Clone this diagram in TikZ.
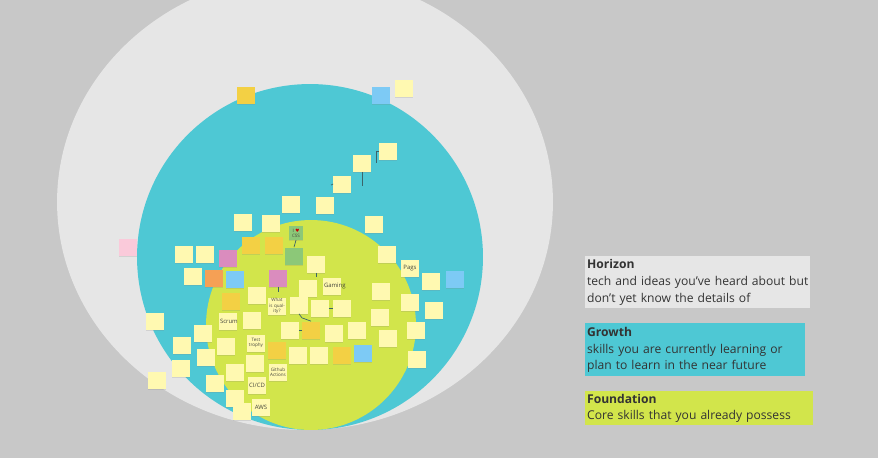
\documentclass[tikz,border=0pt]{standalone}
\usepackage{fontspec}
\setmainfont{Open Sans}
\newfontfamily\symfont{DejaVu Sans}
\usetikzlibrary{shadows}

\definecolor{bggray}{RGB}{200,200,200}
\definecolor{horizon}{RGB}{230,230,230}
\definecolor{growth}{RGB}{78,200,212}
\definecolor{foundation}{RGB}{210,229,75}
\definecolor{noteyellow}{RGB}{255,249,177}
\definecolor{notedark}{RGB}{243,208,68}
\definecolor{noteorange}{RGB}{245,160,85}
\definecolor{notemauve}{RGB}{218,140,190}
\definecolor{notepink}{RGB}{250,202,218}
\definecolor{noteblue}{RGB}{125,202,245}
\definecolor{notegreen}{RGB}{140,200,120}
\definecolor{notetext}{RGB}{70,70,60}
\definecolor{linkgray}{RGB}{60,100,105}

\begin{document}
\begin{tikzpicture}[
    x=0.02cm, y=-0.02cm,
    note/.style={fill=noteyellow, minimum size=0.34cm, text width=0.32cm, inner sep=0.3pt, align=center, text=notetext, font=\fontsize{2.6}{3}\selectfont, drop shadow={shadow xshift=0pt, shadow yshift=-0.6pt, opacity=0.2}},
    bignote/.style={note, font=\fontsize{3.4}{3.8}\selectfont},
    link/.style={draw=linkgray, line width=0.4pt},
    legend/.style={anchor=north west, inner xsep=1pt, inner ysep=0pt, align=left, text=black!80, font=\fontsize{6.9}{9.6}\selectfont}
]
\fill[bggray] (0,0) rectangle (878,458);
\useasboundingbox (0,0) rectangle (878,458);
\clip (0,0) rectangle (878,458);

% the three rings
\fill[horizon] (305,202) ellipse[x radius=4.96cm, y radius=4.56cm];
\fill[growth] (310,257) circle[radius=3.46cm];
\fill[foundation] (311,325) circle[radius=2.1cm];

% horizon
\node[note, fill=notedark] (hz1) at (246,95) {};
\node[note, fill=noteblue] (hz2) at (381,95) {};
\node[note] (hz3) at (404,88) {};
\node[note, fill=notepink] (hz4) at (128,247) {};
\node[note] (hz5) at (155,321) {};
\node[note] (hz6) at (157,380) {};

% growth: the stairs
\node[note] (st1) at (325,205) {};
\node[note] (st2) at (342,184) {};
\node[note] (st3) at (362,163) {};
\node[note] (st4) at (388,151) {};
\coordinate (st2tip) at (331,185);
\coordinate (st3end) at (362,186);
\coordinate (st4end) at (376,163);

\draw[link] (st4.west) -| (st4end);
\draw[link] (st3.south) -- (st3end);
\draw[link] (st2tip) -- (st2.west);

% growth: the rest
\foreach \n/\x/\y in {gr1/291/204, gr2/243/222, gr3/271/223, gr4/374/224, gr5/184/254, gr6/205/254, gr7/193/276,
    gr8/387/254, gr9/431/281, gr10/381/291, gr11/410/302, gr12/434/310, gr13/380/317, gr14/416/330, gr15/388/338,
    gr16/417/359, gr17/203/333, gr18/182/345, gr19/226/346, gr20/206/357, gr21/181/368, gr22/215/383}
  \node[note] (\n) at (\x,\y) {};

\node[note, fill=notemauve] (gr23) at (228,258) {};
\node[note, fill=noteorange] (gr24) at (214,278) {};
\node[note, fill=noteblue] (gr25) at (235,279) {};
\node[note, fill=noteblue] (gr26) at (455,279) {};
\node[bignote] (pags) at (410,268) {Pags};

% foundation
\foreach \n/\x/\y in {fd1/316/264, fd2/308/288, fd3/257/295, fd4/342/308, fd5/252/320, fd6/290/330, fd7/334/333,
    fd8/357/330, fd9/298/355, fd10/319/355, fd11/255/363, fd12/235/372, fd13/235/398, fd14/242/411, fd15/299/305,
    fd16/320/308}
  \node[note] (\n) at (\x,\y) {};

\node[note, fill=notedark] (fd17) at (251,245) {};
\node[note, fill=notedark] (fd18) at (274,245) {};
\node[note, fill=notedark] (fd19) at (231,301) {};
\node[note, fill=notedark] (fd20) at (311,330) {};
\node[note, fill=notedark] (fd21) at (277,350) {};
\node[note, fill=notedark] (fd22) at (342,355) {};
\node[note, fill=notemauve] (fd23) at (278,278) {};
\node[note, fill=noteblue] (fd24) at (363,353) {};
\node[note, fill=notegreen, minimum size=0.27cm, text width=0.25cm] (css) at (296,233) {I {\symfont\color{red!80!black}♥}\\CSS};
\node[note, fill=notegreen] (fd25) at (294,256) {};
\node[bignote] (gaming) at (332,286) {Gaming};
\node[note] (quality) at (277,306) {What is quality?};
\node[bignote] (scrum) at (228,321) {Scrum};
\node[note] (trophy) at (256,343) {Test trophy};
\node[note] (actions) at (278,372) {Github Actions};
\node[bignote] (cicd) at (257,385) {CI/CD};
\node[bignote] (aws) at (261,407) {AWS};

\coordinate (fd1end) at (316,277);
\coordinate (fd23end) at (278,292);

\draw[link] (css.south) -- (fd25.north);
\draw[link] (fd1.south) -- (fd1end);
\draw[link] (fd23.south) -- (fd23end);
\draw[link] (fd15.south) -- ++(3,4) -- (fd20.north);
\draw[link] (fd16.east) -- (fd4.west);
\draw[link] (fd20.west) -- (fd6.east);

% legend
\node[legend, fill=horizon, text width=4.5cm-2pt, minimum height=1.04cm] (horizonkey) at (585,256)
  {\textbf{Horizon}\\tech and ideas you've heard about but\\don't yet know the details of};
\node[legend, fill=growth, text width=4.4cm-2pt, minimum height=1.06cm] (growthkey) at (585,323)
  {\textbf{Growth}\\skills you are currently learning or\\plan to learn in the near future};
\node[legend, fill=foundation, text width=4.56cm-2pt, minimum height=0.68cm] (foundationkey) at (585,391)
  {\textbf{Foundation}\\Core skills that you already possess};
\end{tikzpicture}
\end{document}
